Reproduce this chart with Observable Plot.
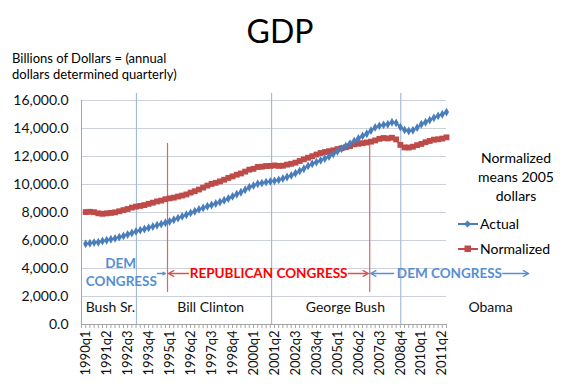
<!DOCTYPE html>
<html><head><meta charset="utf-8">
<script src="https://cdn.jsdelivr.net/npm/d3@7"></script>
<script src="https://cdn.jsdelivr.net/npm/@observablehq/plot@0.6"></script>
<style>
body{margin:0;background:#fff;font-family:Lato,"Open Sans",sans-serif;color:#000;}
#wrap{position:relative;width:576px;height:389px;overflow:hidden;background:#fff;}
#chart{position:absolute;left:0;top:0;}
.ov{position:absolute;white-space:nowrap;}
#title{left:0;width:560px;text-align:center;top:15px;font-size:32px;line-height:32px;}
#sub{left:12px;top:50px;font-size:13px;line-height:16px;}
#note{left:466px;width:100px;text-align:center;top:148px;font-size:14px;line-height:19px;}
.leg{left:458px;font-size:14px;line-height:19px;display:flex;align-items:center;}
.leg svg{margin-right:2px;}
</style></head>
<body><div id="wrap">
<div id="chart"></div>
<div id="title" class="ov">GDP</div>
<div id="sub" class="ov">Billions of Dollars = (annual<br>dollars determined quarterly)</div>
<div id="note" class="ov">Normalized<br>means 2005<br>dollars</div>
<div id="legA" class="ov leg" style="top:214px"></div>
<div id="legN" class="ov leg" style="top:239px"></div>
</div>
<script>
// ---- data ----
const firstYear = 1990;
const nQuarters = 87; // 1990q1 .. 2011q3
const tickLabels = ["1990q1","1991q2","1992q3","1993q4","1995q1","1996q2","1997q3","1998q4","2000q1","2001q2","2002q3","2003q4","2005q1","2006q2","2007q3","2008q4","2010q1","2011q2"];
const actual = [5760,5800,5850,5880,5960,6020,6090,6150,6240,6330,6430,6540,6650,6740,6820,6910,7000,7090,7170,7270,
  7360,7480,7600,7720,7840,7970,8090,8220,8330,8450,8540,8640,8750,8870,9000,9150,9300,9450,9620,9800,
  9920,10050,10100,10170,10220,10260,10330,10430,10540,10650,10800,10960,11130,11330,11480,11600,11720,11850,12000,12170,
  12380,12560,12740,12920,13100,13290,13470,13620,13850,14080,14190,14260,14300,14450,14400,14100,13900,13820,13880,14060,
  14300,14450,14600,14760,14900,15020,15170];
const normalized = [8030,8050,8020,7940,7910,7940,7970,8010,8090,8170,8250,8350,8420,8470,8530,8620,8700,8790,8850,8950,
  9010,9060,9140,9210,9290,9420,9520,9640,9780,9920,10040,10120,10220,10340,10470,10580,10700,10790,10920,11060,
  11120,11250,11270,11320,11330,11360,11330,11340,11420,11480,11560,11680,11800,11910,12020,12140,12250,12320,12380,12440,
  12530,12590,12660,12740,12870,12910,12950,13000,13060,13150,13260,13320,13290,13340,13220,12830,12650,12640,12700,12810,
  12900,13020,13110,13200,13230,13280,13370];
const yTicks = [0,2000,4000,6000,8000,10000,12000,14000,16000];
const presidentLines = [12.1, 44.3, 75.1];      // quarter index of term changes
const congressLines = [19.5, 67.7];
const presidents = [
  {name:"Bush Sr.", x:5.9}, {name:"Bill Clinton", x:29.8},
  {name:"George Bush", x:61.9}, {name:"Obama", x:96.5}];
const presidentLabelY = 1214;
const arrowY = 3643;
const arrows = [
  {x1:17.1, x2:19.0, c:"blue"},
  {x1:24.5, x2:19.7, c:"red"},
  {x1:62.6, x2:67.4, c:"red"},
  {x1:73.4, x2:67.9, c:"blue"},
  {x1:99.4, x2:105.6, c:"blue"}];
const congressText = [
  {t:"DEM", x:8.3, y:4357, c:"blue"},
  {t:"CONGRESS", x:8.5, y:3071, c:"blue"},
  {t:"REPUBLICAN CONGRESS", x:43.6, y:3643, c:"red"},
  {t:"DEM CONGRESS", x:86.7, y:3643, c:"blue"}];

// ---- build ----
const quarters = d3.range(nQuarters).map(i => `${firstYear + Math.floor(i/4)}q${i%4+1}`);
const tickIdx = tickLabels.map(l => quarters.indexOf(l));
const rows = [];
actual.forEach((v,i)=>rows.push({i, v, s:"Actual"}));
normalized.forEach((v,i)=>rows.push({i, v, s:"Normalized"}));
const BLUE = "#4a7ebb", RED = "#be4b48";
const ABLUE = "#558ed5", AREDTXT = "#ff0000", ARED = "#d9534f";
const colOf = c => c === "blue" ? ABLUE : ARED;

const plot = Plot.plot({
  width: 576, height: 389,
  marginLeft: 81, marginRight: 130, marginTop: 100, marginBottom: 65,
  style: {fontFamily: "Lato, 'Open Sans', sans-serif", fontSize: "14px", color: "#111", background: "transparent", overflow: "visible"},
  x: {type: "linear", domain: [-1, 86]},
  y: {domain: [0, 16000]},
  marks: [
    Plot.gridY(yTicks, {stroke: "#cdd2da", strokeOpacity: 1}),
    Plot.axisY(yTicks, {tickFormat: d3.format(",.1f"), tickSize: 0, tickPadding: 13, label: null, fontSize: 14}),
    Plot.ruleX(presidentLines, {y1: 0, y2: 16500, stroke: "#a3bbdb", strokeWidth: 1.2}),
    Plot.ruleX(congressLines, {y1: 2286, y2: 12929, stroke: "#d46a66", strokeWidth: 1.2}),
    Plot.ruleY([0], {stroke: "#a6a6a6"}),
    Plot.ruleX([-1], {y1: 0, y2: 16000, stroke: "#a6a6a6"}),
    Plot.axisX(d3.range(-1, 87), {tickSize: 4, tickFormat: () => "", stroke: "#a6a6a6", label: null}),
    Plot.axisX(tickIdx, {tickFormat: i => quarters[i], tickRotate: -90, tickSize: 0, tickPadding: 6, label: null, fontSize: 13}),
    Plot.line(rows, {x: "i", y: "v", z: "s", stroke: d => d.s === "Actual" ? BLUE : RED, strokeWidth: 2}),
    Plot.dot(rows.filter(d => d.s === "Normalized"), {x: "i", y: "v", symbol: "square", r: 3.3, fill: RED, stroke: "none"}),
    Plot.dot(rows.filter(d => d.s === "Actual"), {x: "i", y: "v", symbol: "diamond", r: 2.7, fill: BLUE, stroke: "none"}),
    Plot.arrow(arrows, {x1: "x1", x2: "x2", y1: arrowY, y2: arrowY, stroke: d => colOf(d.c), strokeWidth: 1.3, headLength: 7, headAngle: 55}),
    Plot.text(congressText, {x: "x", y: "y", text: "t", fill: d => d.c === "blue" ? ABLUE : AREDTXT, fontWeight: "bold", fontSize: 13.5, textAnchor: "middle"}),
    Plot.text(presidents, {x: "x", y: presidentLabelY, text: "name", fill: "#111", fontSize: 14, textAnchor: "middle"})
  ]
});
document.getElementById("chart").appendChild(plot);

function swatch(color, sym) {
  const s = sym === "diamond"
    ? `<path d="M9.5,6.5 l3.5,3.5 l-3.5,3.5 l-3.5,-3.5z" fill="${color}"/>`
    : `<rect x="6.5" y="6.5" width="6.5" height="6.5" fill="${color}"/>`;
  return `<svg width="20" height="19"><line x1="0" x2="20" y1="10" y2="10" stroke="${color}" stroke-width="2"/>${s}</svg>`;
}
document.getElementById("legA").innerHTML = swatch(BLUE, "diamond") + "<span>Actual</span>";
document.getElementById("legN").innerHTML = swatch(RED, "square") + "<span>Normalized</span>";
</script>
</body></html>
